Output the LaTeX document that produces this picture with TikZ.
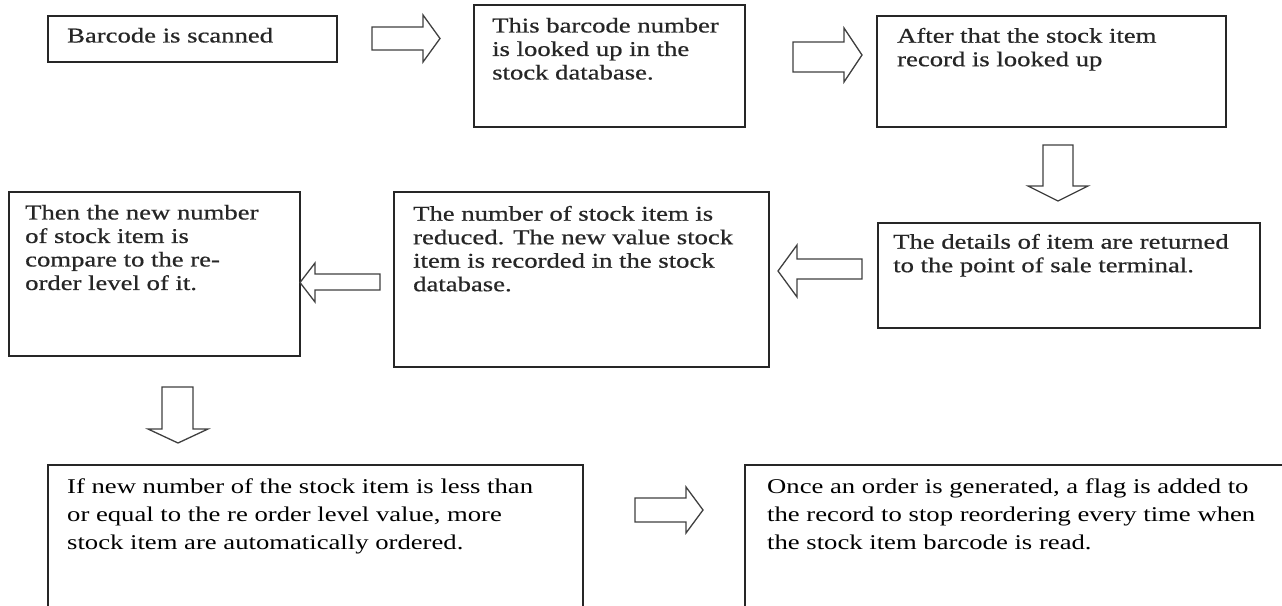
\documentclass[tikz,border=0pt]{standalone}
\usepackage{fontspec}
\setmainfont{Liberation Serif}[FakeStretch=1.27]
\newfontfamily\heavyserif{Liberation Serif}[FakeStretch=1.27,FakeBold=0.6]
\usetikzlibrary{calc}
\tikzset{
  box/.style={draw=black!85, line width=1.5pt, fill=none, inner sep=0pt, anchor=north west},
  txt/.style={inner sep=0pt, anchor=north west, align=left, text=black!85,
              font=\heavyserif\fontsize{21}{23.5}\selectfont},
  txtb/.style={txt, text=black, font=\fontsize{21}{28}\selectfont},
  barrow/.style={draw=black!75, line width=1.3pt, fill=white, line join=miter}
}
\begin{document}
\begin{tikzpicture}[x=1pt,y=-1pt]
\useasboundingbox (0,0) rectangle (1282,605);
\clip (0,0) rectangle (1282,605);
\fill[white] (0,0) rectangle (1282,605);

% boxes
\node[box, minimum width=289, minimum height=46]  (b1) at (47,15) {};
\node[box, minimum width=271, minimum height=122] (b2) at (473,4) {};
\node[box, minimum width=349, minimum height=111] (b3) at (876,15) {};
\node[box, minimum width=382, minimum height=105] (b4) at (877,222) {};
\node[box, minimum width=375, minimum height=175] (b5) at (393,191) {};
\node[box, minimum width=291, minimum height=164] (b6) at (8,191) {};
\node[box, minimum width=535, minimum height=170] (b7) at (47,464) {};
\node[box, minimum width=560, minimum height=170] (b8) at (744,464) {};

% texts
\node[txt] (t1) at ($(b1.north west)+(20,12.7)$) {Barcode is scanned};
\node[txt] (t2) at ($(b2.north west)+(19,13.7)$) {This barcode number\\is looked up in the\\stock database.};
\node[txt] (t3) at ($(b3.north west)+(21,12.7)$) {After that the stock item\\record is looked up};
\node[txt] (t4) at ($(b4.north west)+(16,11.7)$) {The details of item are returned\\to the point of sale terminal.};
\node[txt] (t5) at ($(b5.north west)+(20,14.7)$) {The number of stock item is\\reduced. The new value stock\\item is recorded in the stock\\database.};
\node[txt] (t6) at ($(b6.north west)+(17,13.7)$) {Then the new number\\of stock item is\\compare to the re-\\order level of it.};
\node[txtb] (t7) at ($(b7.north west)+(20,14.7)$) {If new number of the stock item is less than\\or equal to the re order level value, more\\stock item are automatically ordered.};
\node[txtb] (t8) at ($(b8.north west)+(23,14.7)$) {Once an order is generated, a flag is added to\\the record to stop reordering every time when\\the stock item barcode is read.};

% block arrows
% b1 -> b2
\draw[barrow] (372,27) -- (423,27) -- (423,15) -- (440,38.5) -- (423,62) -- (423,50) -- (372,50) -- cycle;
% b2 -> b3
\draw[barrow] (793,42) -- (844,42) -- (844,28) -- (862,55) -- (844,82) -- (844,72) -- (793,72) -- cycle;
% b3 -> b4 (down)
\draw[barrow] (1043,145) -- (1073,145) -- (1073,186) -- (1088,186) -- (1058,201) -- (1028,186) -- (1043,186) -- cycle;
% b4 -> b5 (left)
\draw[barrow] (862,259) -- (797,259) -- (797,245) -- (778,271) -- (797,297) -- (797,279) -- (862,279) -- cycle;
% b5 -> b6 (left)
\draw[barrow] (380,274) -- (315,274) -- (315,263) -- (300,282.5) -- (315,302) -- (315,290) -- (380,290) -- cycle;
% b6 -> b7 (down)
\draw[barrow] (162,387) -- (193,387) -- (193,429) -- (208,429) -- (178,443) -- (148,429) -- (162,429) -- cycle;
% b7 -> b8
\draw[barrow] (635,498) -- (686,498) -- (686,487) -- (703,510) -- (686,533) -- (686,522) -- (635,522) -- cycle;
\end{tikzpicture}
\end{document}
